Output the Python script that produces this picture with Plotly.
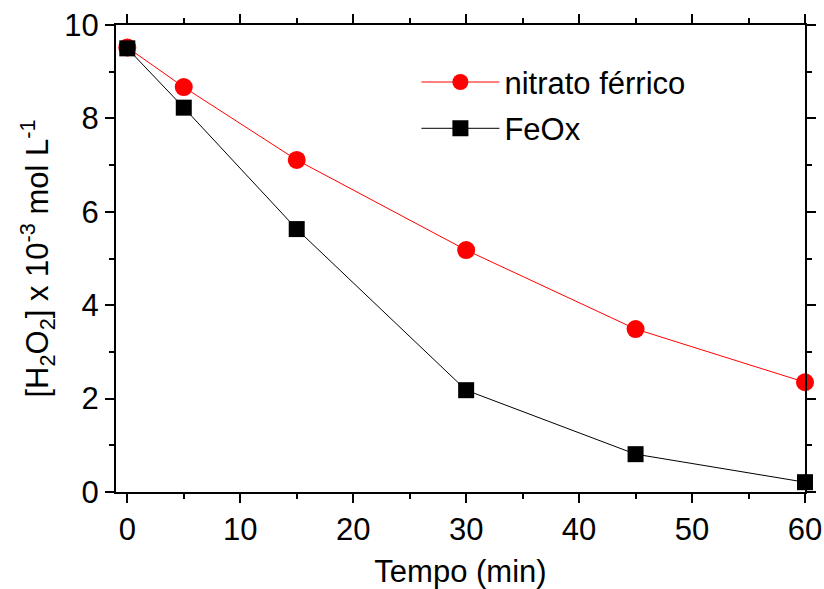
import plotly.graph_objects as go

tempo = [0, 5, 15, 30, 45, 60]
nitrato = [9.52, 8.67, 7.11, 5.18, 3.49, 2.35]
feox = [9.50, 8.23, 5.63, 2.18, 0.81, 0.21]

FONT = "Liberation Sans, Arial, sans-serif"
FS = 31

fig = go.Figure()
fig.add_trace(go.Scatter(x=tempo, y=nitrato, name="nitrato férrico", mode="lines+markers",
                         legendgroup="a",
                         line=dict(color="#ff0000", width=1),
                         marker=dict(symbol="circle", size=18, color="#ff0000"),
                         cliponaxis=False))
fig.add_trace(go.Scatter(x=tempo, y=feox, name="FeOx", mode="lines+markers",
                         legendgroup="b",
                         line=dict(color="#000000", width=1),
                         marker=dict(symbol="square", size=16, color="#000000"),
                         cliponaxis=False))

axis_common = dict(showline=True, linewidth=2, linecolor="black", mirror="allticks",
                   ticks="outside", ticklen=9, tickwidth=2, tickcolor="black",
                   showgrid=False, zeroline=False, automargin=False,
                   tickfont=dict(family=FONT, size=FS, color="black"))

fig.update_xaxes(range=[-1, 60], dtick=10, tick0=0,
                 minor=dict(dtick=5, ticks="outside", ticklen=5, tickwidth=2, tickcolor="black"),
                 title=dict(text="Tempo (min)", font=dict(family=FONT, size=FS, color="black"), standoff=14),
                 **axis_common)
fig.update_yaxes(range=[0, 10], dtick=2, tick0=0,
                 minor=dict(dtick=1, ticks="outside", ticklen=5, tickwidth=2, tickcolor="black"),
                 title=dict(text="[H<sub>2</sub>O<sub>2</sub>] x 10<sup>-3</sup> mol L<sup>-1</sup>",
                            font=dict(family=FONT, size=FS, color="black"), standoff=6),
                 **axis_common)

fig.update_layout(width=824, height=589,
                  margin=dict(l=116, r=19, t=25, b=97, autoexpand=False),
                  plot_bgcolor="white", paper_bgcolor="white",
                  font=dict(family=FONT, color="black"),
                  legend=dict(x=0.436, y=0.935, xanchor="left", yanchor="top",
                              font=dict(family=FONT, size=FS, color="black"),
                              bgcolor="rgba(0,0,0,0)", itemwidth=78,
                              traceorder="grouped", tracegroupgap=3))

fig.write_html("out.html")
